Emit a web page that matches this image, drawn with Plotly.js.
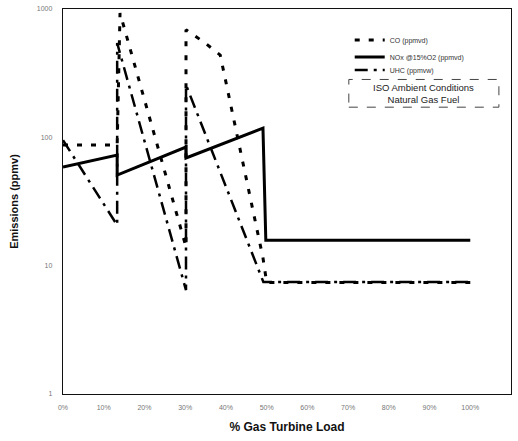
<!DOCTYPE html>
<html>
<head>
<meta charset="utf-8">
<script src="https://cdn.plot.ly/plotly-3.0.1.min.js"></script>
<style>
  html, body { margin: 0; padding: 0; background: #fff; }
  #chart { width: 518px; height: 441px; }
</style>
</head>
<body>
<div id="chart"></div>
<script>
// Data (% gas turbine load vs emissions in ppmv)
var coLoad  = [0, 13.3, 14, 30.2, 30.2, 35, 38.6, 49.1, 50, 100];
var coVal   = [87, 87, 930, 14, 690, 540, 438, 11.5, 7.4, 7.4];

var noxLoad = [0, 13.3, 13.3, 30.2, 30.2, 49.1, 49.8, 100];
var noxVal  = [58.7, 72.8, 50.8, 84, 69, 118, 15.8, 15.8];

var uhcLoad = [0, 13.3, 13.3, 30.2, 30.2, 49.2, 100];
var uhcVal  = [95, 20.7, 543, 6.45, 256, 7.45, 7.45];

var seriesNames = ["CO (ppmvd)", "NOx @15%O2 (ppmvd)", "UHC (ppmvw)"];
var xTickVals = [0, 10, 20, 30, 40, 50, 60, 70, 80, 90, 100, 110];
var xTickText = ["0%", "10%", "20%", "30%", "40%", "50%", "60%", "70%", "80%", "90%", "100%", "110%"];
var yTickVals = [1, 10, 100, 1000];
var yTickText = ["1", "10", "100", "1000"];
var noteLines = ["ISO Ambient Conditions", "Natural Gas Fuel"];

var FONT = "Liberation Sans, Arial, sans-serif";

var traces = [
  { x: coLoad, y: coVal, name: seriesNames[0], mode: "lines", legend: "legend",
    line: { color: "#000", width: 3, dash: "5px,9px" } },
  { x: noxLoad, y: noxVal, name: seriesNames[1], mode: "lines", legend: "legend2",
    line: { color: "#000", width: 3 } },
  { x: uhcLoad, y: uhcVal, name: seriesNames[2], mode: "lines", legend: "legend3",
    line: { color: "#000", width: 2.5, dash: "13px,6px,3px,6px" } }
];

function leg(y) {
  return {
    x: 0.64, y: y, xanchor: "left", yanchor: "top",
    bgcolor: "rgba(0,0,0,0)", borderwidth: 0,
    font: { size: 7, color: "#333", family: FONT },
    itemwidth: 30
  };
}

var layout = {
  width: 518, height: 441,
  margin: { l: 63, r: 7, t: 9, b: 47 },
  paper_bgcolor: "#fff", plot_bgcolor: "#fff",
  font: { family: FONT, color: "#000" },
  showlegend: true,
  legend: leg(0.957),
  legend2: leg(0.913),
  legend3: leg(0.879),
  xaxis: {
    type: "linear", range: [0, 110],
    tickvals: xTickVals, ticktext: xTickText,
    tickfont: { size: 7, color: "#777" },
    ticks: "", showgrid: false, zeroline: false,
    showline: true, linecolor: "#111", linewidth: 1.2, mirror: true,
    ticklabelstandoff: 6,
    title: { text: "% Gas Turbine Load", font: { size: 12, family: FONT, weight: "bold", color: "#111" }, standoff: 13 }
  },
  yaxis: {
    type: "log", range: [0, 3],
    tickvals: yTickVals, ticktext: yTickText,
    tickfont: { size: 7, color: "#777" },
    ticks: "", showgrid: false, zeroline: false,
    showline: true, linecolor: "#111", linewidth: 1.2, mirror: true,
    ticklabelstandoff: 8,
    title: { text: "Emissions (ppmv)", font: { size: 11, family: FONT, weight: "bold", color: "#111" }, standoff: 16 }
  },
  shapes: [
    { type: "rect", xref: "paper", yref: "paper",
      x0: 0.638, x1: 0.973, y0: 0.745, y1: 0.817,
      line: { color: "#444", width: 1, dash: "dash" }, fillcolor: "rgba(0,0,0,0)" }
  ],
  annotations: [
    { xref: "paper", yref: "paper", x: 0.805, y: 0.781, xanchor: "center", yanchor: "middle",
      text: noteLines.join("<br>"), showarrow: false,
      font: { size: 9.5, color: "#222", family: FONT } }
  ]
};

Plotly.newPlot("chart", traces, layout, { displayModeBar: false, staticPlot: true });
</script>
</body>
</html>
